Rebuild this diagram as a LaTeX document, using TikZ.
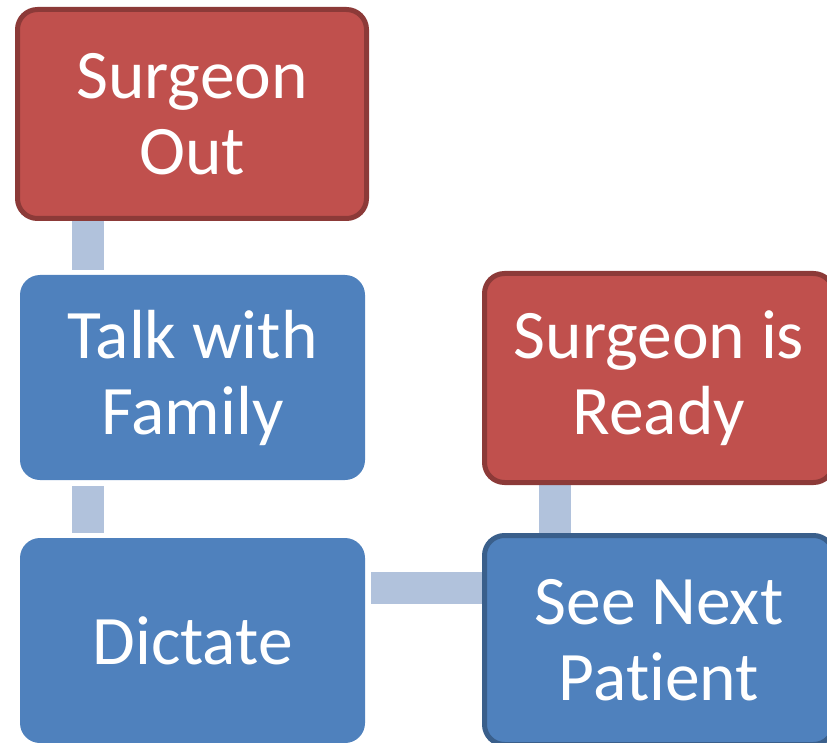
\documentclass[tikz,border=0pt]{standalone}
\usepackage{fontspec}
\setmainfont{Carlito}[RawFeature=-liga]
\usetikzlibrary{backgrounds}
\definecolor{redfill}{HTML}{C0504D}
\definecolor{redline}{HTML}{8C3A38}
\definecolor{bluefill}{HTML}{4F81BD}
\definecolor{blueline}{HTML}{3A5F8B}
\definecolor{connfill}{HTML}{B1C2DC}
\tikzset{
  box/.style={rectangle, rounded corners=20pt, text=white, align=center,
    font=\fontsize{69.5}{76}\selectfont, inner sep=0pt},
  redbox/.style={box, fill=redfill, draw=redline, line width=5pt,
    minimum width=349pt, minimum height=209pt},
  bluebox/.style={box, fill=bluefill, draw=none,
    minimum width=345pt, minimum height=205pt},
  blueframed/.style={box, fill=bluefill, draw=blueline, line width=5pt,
    minimum width=349pt, minimum height=209pt},
  conn/.style={draw=connfill, line width=32pt}
}
\begin{document}
\begin{tikzpicture}[x=1pt,y=-1pt]
\useasboundingbox (0,0) rectangle (827,743);
\clip (0,0) rectangle (827,743);
\node[redbox] (so) at (192,114) {Surgeon\\Out};
\node[bluebox] (tf) at (192.5,377.5) {Talk with\\Family};
\node[bluebox] (dc) at (192.5,640.5) {Dictate};
\node[redbox] (sr) at (659,378) {Surgeon is\\Ready};
\node[blueframed] (sn) at (659,640) {See Next\\Patient};
\begin{scope}[on background layer]
\draw[conn] ([xshift=-104pt]so.south) -- ([xshift=-104.5pt,yshift=5pt]tf.north);
\draw[conn] ([xshift=-104.5pt,yshift=-6pt]tf.south) -- ([xshift=-104.5pt,yshift=5pt]dc.north);
\draw[conn] ([xshift=6pt,yshift=52.5pt]dc.east) -- ([yshift=52pt]sn.west);
\draw[conn] ([xshift=-104pt]sr.south) -- ([xshift=-104pt]sn.north);
\end{scope}
\end{tikzpicture}
\end{document}
